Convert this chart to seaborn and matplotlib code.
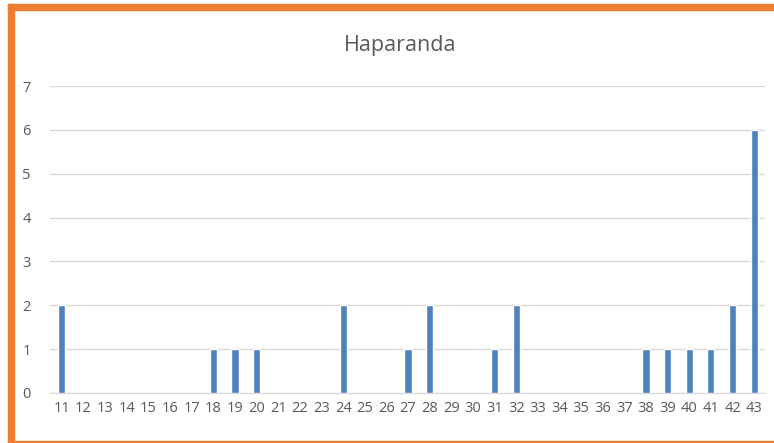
import pandas as pd
import matplotlib
matplotlib.use("Agg")
import matplotlib.pyplot as plt
import seaborn as sns
from matplotlib.patches import Rectangle

# Data
ages = list(range(11, 44))
counts = [2, 0, 0, 0, 0, 0, 0, 1, 1, 1, 0, 0, 0, 2, 0, 0, 1, 2, 0, 0,
          1, 2, 0, 0, 0, 0, 0, 1, 1, 1, 1, 2, 6]
title = "Haparanda"

BAR = "#4F81BD"
GRID = "#D9D9D9"
TEXT = "#595959"
ORANGE = "#ED7D31"


def main():
    sns.set_style("white")
    plt.rcParams['font.family'] = ['Open Sans', 'DejaVu Sans']

    df = pd.DataFrame({"age": [str(a) for a in ages], "count": counts})

    fig = plt.figure(figsize=(7.74, 4.43), dpi=100)
    ax = fig.add_axes([50 / 774, 50 / 443, 715 / 774, 307 / 443])

    sns.barplot(data=df, x="age", y="count", color=BAR, width=0.33,
                saturation=1, ax=ax, zorder=3)

    ax.set_ylim(0, 7)
    ax.set_xlim(-0.55, len(ages) - 0.5)
    ax.set_yticks(range(0, 8))
    ax.yaxis.grid(True, color=GRID, linewidth=1, zorder=0)
    ax.set_axisbelow(True)
    for s in ["top", "right", "left"]:
        ax.spines[s].set_visible(False)
    ax.spines["bottom"].set_color(GRID)
    ax.tick_params(axis="both", length=0, labelsize=10.5, colors=TEXT)
    ax.tick_params(axis="x", pad=6)
    ax.tick_params(axis="y", pad=14)
    ax.set_xlabel("")
    ax.set_ylabel("")

    fig.text(400 / 774, 1 - 45 / 443, title, ha="center", va="center",
             fontsize=15.5, color=TEXT)

    # orange frame (top, left, bottom)
    fig.patches.append(Rectangle((8 / 774, 1 - 10 / 443), 1, 6 / 443,
                                 transform=fig.transFigure, color=ORANGE))
    fig.patches.append(Rectangle((8 / 774, 0), 6 / 774, 1 - 4 / 443,
                                 transform=fig.transFigure, color=ORANGE))
    fig.patches.append(Rectangle((8 / 774, 0), 1, 2.5 / 443,
                                 transform=fig.transFigure, color=ORANGE))

    fig.savefig("out.png", dpi=100)


if __name__ == "__main__":
    main()
